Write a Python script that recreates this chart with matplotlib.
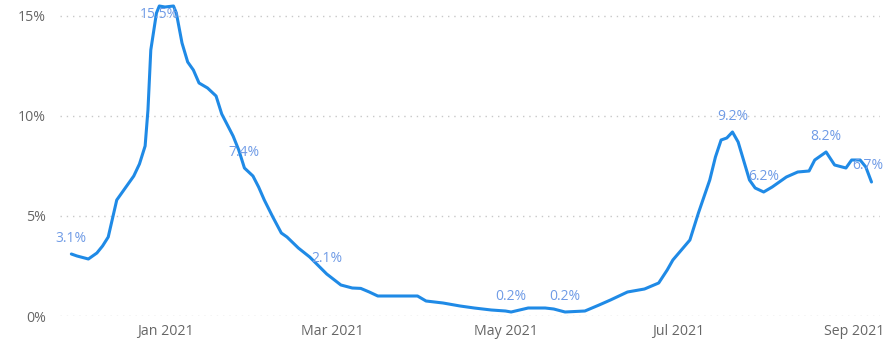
import matplotlib
matplotlib.use("Agg")
import matplotlib.pyplot as plt
import matplotlib.dates as mdates
import numpy as np

plt.rcParams['font.family'] = ['Open Sans', 'DejaVu Sans']

# daily positivity rate (%), read at irregular dates
dates = ["2020-11-29", "2020-12-01", "2020-12-05", "2020-12-08", "2020-12-10",
         "2020-12-12", "2020-12-15", "2020-12-18", "2020-12-21", "2020-12-23",
         "2020-12-25", "2020-12-26", "2020-12-27", "2020-12-29", "2020-12-30",
         "2021-01-01", "2021-01-04", "2021-01-05", "2021-01-07", "2021-01-09",
         "2021-01-11", "2021-01-13", "2021-01-16", "2021-01-19", "2021-01-21",
         "2021-01-25", "2021-01-27", "2021-01-29", "2021-02-01", "2021-02-03",
         "2021-02-05", "2021-02-08", "2021-02-11", "2021-02-13", "2021-02-17",
         "2021-02-21", "2021-02-27", "2021-03-04", "2021-03-08", "2021-03-11",
         "2021-03-14", "2021-03-17", "2021-03-31", "2021-04-03", "2021-04-09",
         "2021-04-15", "2021-04-20", "2021-04-26", "2021-05-01", "2021-05-03",
         "2021-05-09", "2021-05-15", "2021-05-18", "2021-05-22", "2021-05-29",
         "2021-06-03", "2021-06-07", "2021-06-13", "2021-06-19", "2021-06-24",
         "2021-06-27", "2021-06-29", "2021-07-02", "2021-07-05", "2021-07-08",
         "2021-07-12", "2021-07-14", "2021-07-16", "2021-07-18", "2021-07-20",
         "2021-07-22", "2021-07-26", "2021-07-28", "2021-07-31", "2021-08-03",
         "2021-08-08", "2021-08-12", "2021-08-16", "2021-08-18", "2021-08-22",
         "2021-08-25", "2021-08-29", "2021-08-31", "2021-09-03", "2021-09-05",
         "2021-09-07"]
rate = [3.1, 3.0, 2.85, 3.15, 3.5,
        3.95, 5.8, 6.4, 7.0, 7.6,
        8.5, 10.3, 13.3, 15.15, 15.5,
        15.45, 15.5, 15.15, 13.65, 12.7,
        12.3, 11.65, 11.4, 11.0, 10.1,
        9.0, 8.3, 7.4, 7.0, 6.45,
        5.8, 4.95, 4.15, 3.95, 3.4,
        2.95, 2.1, 1.55, 1.4, 1.38,
        1.2, 1.0, 1.0, 0.75, 0.65,
        0.5, 0.4, 0.3, 0.25, 0.2,
        0.4, 0.4, 0.35, 0.2, 0.25,
        0.55, 0.8, 1.2, 1.35, 1.65,
        2.3, 2.8, 3.3, 3.8, 5.15,
        6.8, 7.95, 8.8, 8.9, 9.2,
        8.7, 6.8, 6.4, 6.2, 6.45,
        6.95, 7.2, 7.25, 7.8, 8.2,
        7.55, 7.4, 7.8, 7.8, 7.45,
        6.7]

# dates that get a value label, with the label offset in points
label_dates = ["2020-11-29", "2020-12-30", "2021-01-29", "2021-02-27", "2021-05-03",
               "2021-05-22", "2021-07-20", "2021-07-31", "2021-08-22", "2021-09-07"]
label_offsets = [(0, 11), (0, -6), (0, 11), (0, 11), (0, 11),
                 (0, 11), (0, 11), (0, 11), (0, 11), (-3, 12)]

x = np.array(dates, dtype="datetime64[D]")
y = np.array(rate)

fig = plt.figure(figsize=(8.85, 3.41), dpi=100)
ax = fig.add_axes([60 / 885, 1 - 316 / 341, 820 / 885, 312 / 341])

line_color = "#1f8ae6"
ax.plot(x, y, color=line_color, lw=2.2, solid_joinstyle="round",
        solid_capstyle="round", zorder=3)

for d, off in zip(label_dates, label_offsets):
    i = dates.index(d)
    ax.annotate(f"{rate[i]:.1f}%", (x[i], y[i]), xytext=off, textcoords="offset points",
                ha="center", va="center", fontsize=10, color="#6f9be6", zorder=4)

ax.set_ylim(0, 15.6)
ax.set_xlim(np.datetime64("2020-11-25"), np.datetime64("2021-09-10"))
ax.set_yticks([0, 5, 10, 15])
ax.set_yticklabels(["0%", "5%", "10%", "15%"])
ax.xaxis.set_major_locator(mdates.MonthLocator(bymonth=[1, 3, 5, 7, 9]))
ax.xaxis.set_major_formatter(mdates.DateFormatter("%b %Y"))

ax.grid(axis="y", color="#c8c8c8", lw=1.0, linestyle=(0, (1, 3.5)))
ax.grid(axis="x", visible=False)
for s in ax.spines.values():
    s.set_visible(False)
ax.tick_params(axis="both", length=0, labelsize=10.2, colors="#666666")
ax.tick_params(axis="y", pad=10)
ax.tick_params(axis="x", pad=6)

fig.savefig("out.png", dpi=100)
